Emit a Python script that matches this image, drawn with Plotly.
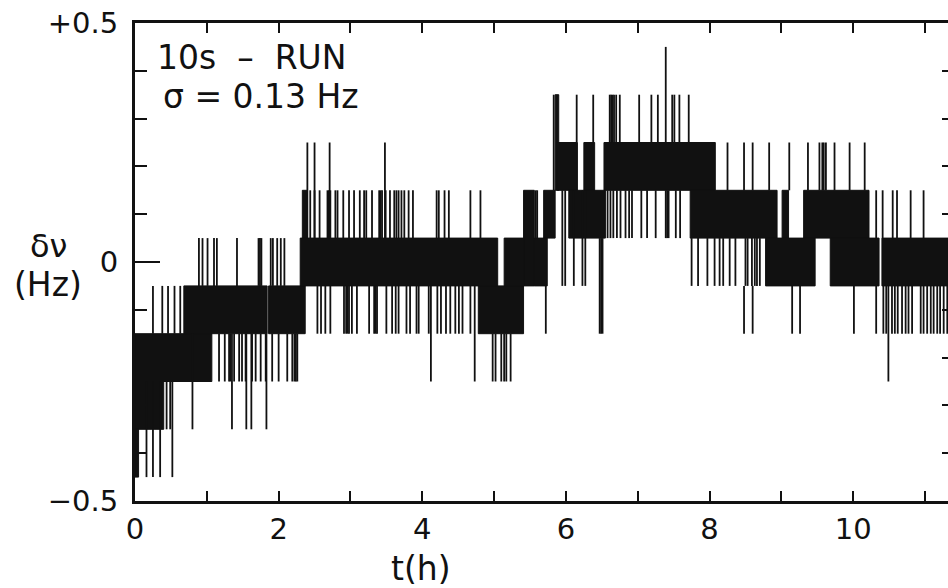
import plotly.graph_objects as go

# ---------------- data ----------------
# dense alternation bands: (start h, end h, lower Hz, upper Hz)
band_start = [0.00, 0.00, 0.00, 0.68, 1.86, 2.30, 2.33, 4.78, 5.14, 5.41, 5.56, 5.69, 5.85, 5.88,
              6.04, 6.25, 6.53, 7.73, 8.78, 9.01, 9.31, 9.68, 10.40]
band_end = [1.07, 0.40, 0.05, 1.84, 2.37, 5.05, 2.40, 5.41, 5.41, 5.56, 5.74, 5.85, 5.90, 6.16,
            6.55, 6.40, 8.08, 8.94, 9.47, 9.10, 10.22, 10.36, 11.40]
band_low = [-0.25, -0.35, -0.45, -0.15, -0.15, -0.05, 0.05, -0.15, -0.05, -0.05, -0.05, 0.05, 0.15, 0.15,
            0.05, 0.15, 0.15, 0.05, -0.05, 0.05, 0.05, -0.05, -0.05]
band_high = [-0.15, -0.25, -0.35, -0.05, -0.05, 0.05, 0.15, -0.05, 0.05, 0.15, 0.05, 0.15, 0.35, 0.25,
             0.15, 0.25, 0.25, 0.15, 0.05, 0.15, 0.15, 0.05, 0.05]

# isolated excursions: (time h, lower Hz, upper Hz)
spikes = [
    # first hour
    (0.16, -0.45, -0.25), (0.25, -0.45, -0.25), (0.35, -0.45, -0.25), (0.52, -0.45, -0.25),
    (0.44, -0.35, -0.25), (0.49, -0.35, -0.25), (0.80, -0.35, -0.15),
    (0.25, -0.15, -0.05), (0.38, -0.15, -0.05), (0.46, -0.15, -0.05), (0.55, -0.15, -0.05), (0.63, -0.15, -0.05),
    # 1-2 h
    (0.89, -0.05, 0.05), (0.94, -0.05, 0.05), (1.01, -0.05, 0.05), (1.10, -0.05, 0.05), (1.14, -0.05, 0.05),
    (1.42, -0.05, 0.05), (1.72, -0.05, 0.05), (1.74, -0.05, 0.05), (1.76, -0.05, 0.05),
    (1.17, -0.25, -0.15), (1.25, -0.25, -0.15), (1.31, -0.25, -0.15), (1.33, -0.25, -0.15), (1.38, -0.25, -0.15),
    (1.45, -0.25, -0.15), (1.49, -0.25, -0.15), (1.54, -0.25, -0.15), (1.63, -0.25, -0.15), (1.68, -0.25, -0.15),
    (1.75, -0.25, -0.15), (1.82, -0.25, -0.15),
    (1.35, -0.35, -0.15), (1.55, -0.35, -0.15), (1.62, -0.35, -0.15), (1.83, -0.35, -0.15),
    # 2-2.4 h
    (1.89, -0.05, 0.05), (1.92, -0.05, 0.05), (1.98, -0.05, 0.05), (2.03, -0.05, 0.05), (2.08, -0.05, 0.05),
    (1.91, -0.25, -0.15), (2.00, -0.25, -0.15), (2.12, -0.25, -0.15), (2.19, -0.25, -0.15),
    (2.22, -0.25, -0.15), (2.24, -0.25, -0.15), (2.26, -0.25, -0.15),
    # 2.4-5 h
    (2.44, 0.05, 0.15), (2.50, 0.05, 0.15), (2.57, 0.05, 0.15), (2.68, 0.05, 0.15), (2.70, 0.05, 0.15),
    (2.72, 0.05, 0.15), (2.79, 0.05, 0.15), (2.82, 0.05, 0.15), (2.90, 0.05, 0.15), (2.98, 0.05, 0.15),
    (3.05, 0.05, 0.15), (3.13, 0.05, 0.15), (3.19, 0.05, 0.15), (3.22, 0.05, 0.15), (3.30, 0.05, 0.15),
    (3.40, 0.05, 0.15), (3.42, 0.05, 0.15), (3.44, 0.05, 0.15), (3.49, 0.05, 0.15), (3.55, 0.05, 0.15),
    (3.61, 0.05, 0.15), (3.64, 0.05, 0.15), (3.67, 0.05, 0.15), (3.71, 0.05, 0.15), (3.75, 0.05, 0.15),
    (3.81, 0.05, 0.15), (3.87, 0.05, 0.15), (4.20, 0.05, 0.15), (4.23, 0.05, 0.15), (4.31, 0.05, 0.15),
    (4.37, 0.05, 0.15), (4.67, 0.05, 0.15), (4.81, 0.05, 0.15),
    (2.40, 0.05, 0.25), (2.50, 0.05, 0.25), (2.71, 0.05, 0.25), (3.48, 0.05, 0.25),
    (2.54, -0.15, -0.05), (2.59, -0.15, -0.05), (2.65, -0.15, -0.05), (2.72, -0.15, -0.05), (2.91, -0.15, -0.05),
    (2.94, -0.15, -0.05), (2.96, -0.15, -0.05), (2.98, -0.15, -0.05), (3.02, -0.15, -0.05), (3.09, -0.15, -0.05),
    (3.26, -0.15, -0.05), (3.33, -0.15, -0.05), (3.35, -0.15, -0.05), (3.37, -0.15, -0.05), (3.50, -0.15, -0.05),
    (3.58, -0.15, -0.05), (3.63, -0.15, -0.05), (3.67, -0.15, -0.05), (3.78, -0.15, -0.05), (3.83, -0.15, -0.05),
    (3.92, -0.15, -0.05), (3.95, -0.15, -0.05), (4.09, -0.15, -0.05), (4.21, -0.15, -0.05), (4.26, -0.15, -0.05),
    (4.33, -0.15, -0.05), (4.39, -0.15, -0.05), (4.46, -0.15, -0.05), (4.51, -0.15, -0.05), (4.56, -0.15, -0.05),
    (4.67, -0.15, -0.05),
    (4.12, -0.25, -0.05), (4.73, -0.25, -0.05),
    # 5-6.5 h
    (4.98, -0.25, -0.15), (5.02, -0.25, -0.15), (5.10, -0.25, -0.15), (5.14, -0.25, -0.15),
    (5.17, -0.25, -0.15), (5.23, -0.25, -0.15),
    (5.58, 0.05, 0.15), (5.60, 0.05, 0.15),
    (5.72, -0.15, -0.05), (5.83, 0.15, 0.35),
    (5.95, -0.05, 0.15), (5.99, -0.05, 0.15), (6.11, -0.05, 0.15), (6.23, -0.05, 0.15), (6.27, -0.05, 0.15),
    (6.15, 0.25, 0.35), (6.38, 0.25, 0.35),
    (6.47, -0.15, 0.05), (6.49, -0.15, 0.05), (6.51, -0.15, 0.05),
    # 6.5-8 h
    (6.61, 0.25, 0.35), (6.63, 0.25, 0.35), (6.65, 0.25, 0.35), (6.67, 0.25, 0.35), (6.70, 0.25, 0.35),
    (6.75, 0.25, 0.35), (7.02, 0.25, 0.35), (7.19, 0.25, 0.35), (7.28, 0.25, 0.35), (7.48, 0.25, 0.35),
    (7.51, 0.25, 0.35), (7.58, 0.25, 0.35), (7.71, 0.25, 0.35),
    (7.39, 0.25, 0.45),
    (6.58, 0.05, 0.15), (6.62, 0.05, 0.15), (6.66, 0.05, 0.15), (6.71, 0.05, 0.15), (6.76, 0.05, 0.15),
    (6.83, 0.05, 0.15), (6.88, 0.05, 0.15), (6.92, 0.05, 0.15), (7.05, 0.05, 0.15), (7.13, 0.05, 0.15),
    (7.25, 0.05, 0.15), (7.39, 0.05, 0.15), (7.41, 0.05, 0.15), (7.43, 0.05, 0.15), (7.53, 0.05, 0.15),
    (7.59, 0.05, 0.15),
    # 8-11.4 h
    (7.75, -0.05, 0.05), (7.84, -0.05, 0.05), (7.97, -0.05, 0.05), (8.07, -0.05, 0.05), (8.14, -0.05, 0.05),
    (8.19, -0.05, 0.05), (8.28, -0.05, 0.05), (8.36, -0.05, 0.05), (8.50, -0.05, 0.05), (8.53, -0.05, 0.05),
    (8.59, -0.05, 0.05), (8.63, -0.05, 0.05), (8.66, -0.05, 0.05), (8.70, -0.05, 0.05),
    (8.25, 0.15, 0.25), (8.48, 0.15, 0.25), (8.60, 0.15, 0.25), (8.83, 0.15, 0.25), (9.11, 0.15, 0.25),
    (9.37, 0.15, 0.25), (9.53, 0.15, 0.25), (9.57, 0.15, 0.25), (9.59, 0.15, 0.25), (9.62, 0.15, 0.25),
    (9.74, 0.15, 0.25), (9.95, 0.15, 0.25), (10.16, 0.15, 0.25),
    (8.48, -0.15, -0.05), (8.60, -0.15, -0.05), (9.15, -0.15, -0.05), (9.26, -0.15, -0.05),
    (10.01, -0.15, -0.05), (10.32, -0.15, -0.05),
    (10.32, 0.05, 0.15), (10.41, 0.05, 0.15), (10.55, 0.05, 0.15), (10.61, 0.05, 0.15),
    (10.80, 0.05, 0.15), (10.98, 0.05, 0.15),
    (10.49, -0.25, -0.05),
    (10.42, -0.15, -0.05), (10.46, -0.15, -0.05), (10.54, -0.15, -0.05), (10.58, -0.15, -0.05),
    (10.62, -0.15, -0.05), (10.68, -0.15, -0.05), (10.73, -0.15, -0.05), (10.77, -0.15, -0.05),
    (10.82, -0.15, -0.05), (10.94, -0.15, -0.05), (10.98, -0.15, -0.05), (11.03, -0.15, -0.05),
    (11.08, -0.15, -0.05), (11.12, -0.15, -0.05), (11.17, -0.15, -0.05), (11.21, -0.15, -0.05),
    (11.26, -0.15, -0.05), (11.31, -0.15, -0.05),
]
spike_t = [s[0] for s in spikes]
spike_lo = [s[1] for s in spikes]
spike_hi = [s[2] for s in spikes]

x_ticks = list(range(0, 12))
x_ticktext = ["0", "", "2", "", "4", "", "6", "", "8", "", "10", ""]
y_ticks = [-0.5, 0.0, 0.5]
y_ticktext = ["\u22120.5", "0", "+0.5"]
y_minor = [-0.4, -0.3, -0.2, -0.1, 0.1, 0.2, 0.3, 0.4]
y_all = [-0.4, -0.3, -0.2, -0.1, 0.0, 0.1, 0.2, 0.3, 0.4]

FONT = "DejaVu Sans"
INK = "#111111"

# ---------------- build traces ----------------
bx, by = [], []
for s, e, lo, hi in zip(band_start, band_end, band_low, band_high):
    bx += [s, e, e, s, s, None]
    by += [lo, lo, hi, hi, lo, None]

sx, sy = [], []
for t, lo, hi in zip(spike_t, spike_lo, spike_hi):
    sx += [t, t, None]
    sy += [lo, hi, None]

fig = go.Figure()
fig.add_trace(go.Scatter(x=bx, y=by, mode="lines", fill="toself", fillcolor=INK,
                         line=dict(color=INK, width=1), hoverinfo="skip", showlegend=False))
fig.add_trace(go.Scatter(x=sx, y=sy, mode="lines", line=dict(color=INK, width=1.8),
                         hoverinfo="skip", showlegend=False))
# invisible trace to activate right-hand tick axis
fig.add_trace(go.Scatter(x=[0], y=[0], yaxis="y2", mode="markers", marker=dict(opacity=0),
                         hoverinfo="skip", showlegend=False))

fig.update_layout(
    width=948, height=588,
    margin=dict(l=135, r=0, t=23, b=87),
    paper_bgcolor="white", plot_bgcolor="white",
    font=dict(family=FONT, color=INK),
    xaxis=dict(range=[0, 11.32], tickmode="array", tickvals=x_ticks, ticktext=x_ticktext,
               ticks="inside", ticklen=10, tickwidth=2, tickcolor=INK,
               showline=True, linewidth=3, linecolor=INK, mirror="ticks",
               showgrid=False, zeroline=False, tickfont=dict(size=29, family=FONT),
               ticklabelstandoff=0),
    yaxis=dict(range=[-0.5, 0.5], tickmode="array", tickvals=y_ticks, ticktext=y_ticktext,
               ticks="inside", ticklen=25, tickwidth=2, tickcolor=INK,
               minor=dict(tickvals=y_minor, ticks="inside", ticklen=12, tickwidth=2, tickcolor=INK),
               showline=True, linewidth=3, linecolor=INK, mirror=False,
               showgrid=False, zeroline=False, tickfont=dict(size=29, family=FONT),
               ticklabelstandoff=8),
    yaxis2=dict(range=[-0.5, 0.5], overlaying="y", side="right", anchor="free", position=1,
                tickmode="array", tickvals=y_all, ticks="inside", ticklen=6, tickwidth=2,
                tickcolor=INK, showticklabels=False, showline=False, showgrid=False, zeroline=False),
    shapes=[
        # long tick at zero on the left axis
        dict(type="line", xref="paper", yref="y", x0=0, x1=25 / 813, y0=0, y1=0,
             line=dict(color=INK, width=2)),
    ],
    annotations=[
        dict(text="10s  \u2013  RUN", x=0.025, y=0.927, xref="paper", yref="paper",
             xanchor="left", yanchor="middle", showarrow=False, font=dict(size=33, family=FONT)),
        dict(text="\u03c3 = 0.13 Hz", x=0.032, y=0.847, xref="paper", yref="paper",
             xanchor="left", yanchor="middle", showarrow=False, font=dict(size=33, family=FONT)),
        dict(text="\u03b4\u03bd", x=-0.107, y=0.533, xref="paper", yref="paper",
             xanchor="center", yanchor="middle", showarrow=False, font=dict(size=32, family=FONT)),
        dict(text="(Hz)", x=-0.107, y=0.452, xref="paper", yref="paper",
             xanchor="center", yanchor="middle", showarrow=False, font=dict(size=33, family=FONT)),
        dict(text="t(h)", x=0.352, y=-0.142, xref="paper", yref="paper",
             xanchor="center", yanchor="middle", showarrow=False, font=dict(size=33, family=FONT)),
    ],
)

fig.write_html("out.html")
